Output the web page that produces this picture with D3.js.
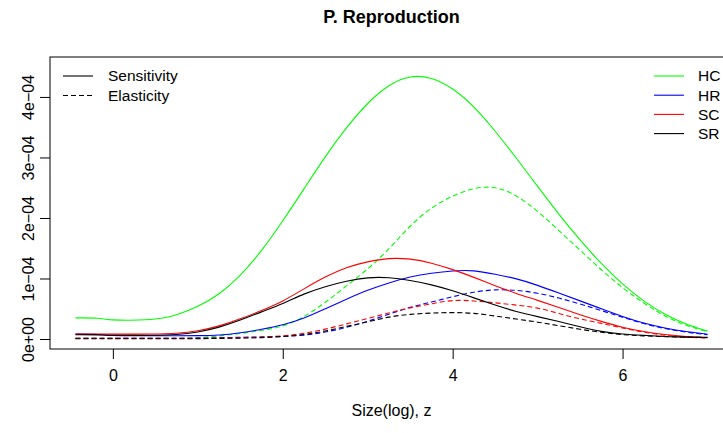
<!DOCTYPE html>
<html>
<head>
<meta charset="utf-8">
<script src="https://cdn.jsdelivr.net/npm/d3@7/dist/d3.min.js"></script>
<style>
  html, body { margin: 0; padding: 0; background: #fff; }
  svg { display: block; }
  text { font-family: "Liberation Sans", Arial, Helvetica, sans-serif; fill: #000; }
</style>
</head>
<body>
<svg id="chart" width="723" height="433"></svg>
<script>
// ---- data (values in units of 1e-04) ----
const sizes = [-0.44, -0.13, -0.1, 0.5, 0.75, 1, 1.25, 1.5, 1.75, 2, 2.25, 2.5, 2.75, 3, 3.25, 3.5, 3.75, 4, 4.25, 4.5, 4.75, 5, 5.25, 5.5, 5.75, 6, 6.25, 6.5, 6.75, 7];

const hcSensitivity = [0.35, 0.35, 0.31, 0.31, 0.39, 0.53, 0.73, 1.04, 1.45, 1.95, 2.48, 3.02, 3.50, 3.91, 4.21, 4.36, 4.33, 4.15, 3.85, 3.44, 2.99, 2.52, 2.06, 1.63, 1.24, 0.90, 0.62, 0.40, 0.24, 0.13];
const hcElasticity  = [0.01, 0.01, 0.01, 0.01, 0.01, 0.02, 0.05, 0.09, 0.14, 0.20, 0.36, 0.60, 0.88, 1.15, 1.48, 1.88, 2.18, 2.37, 2.50, 2.53, 2.38, 2.12, 1.79, 1.47, 1.14, 0.84, 0.59, 0.37, 0.22, 0.12];
const hrSensitivity = [0.08, 0.08, 0.055, 0.055, 0.055, 0.055, 0.06, 0.10, 0.16, 0.23, 0.34, 0.50, 0.66, 0.81, 0.93, 1.03, 1.09, 1.13, 1.14, 1.07, 1.00, 0.89, 0.76, 0.63, 0.50, 0.37, 0.26, 0.18, 0.12, 0.08];
const hrElasticity  = [0.01, 0.01, 0.01, 0.01, 0.01, 0.015, 0.02, 0.03, 0.035, 0.04, 0.06, 0.11, 0.19, 0.29, 0.41, 0.53, 0.61, 0.70, 0.78, 0.82, 0.81, 0.76, 0.68, 0.58, 0.47, 0.36, 0.25, 0.17, 0.11, 0.07];
const scSensitivity = [0.08, 0.08, 0.08, 0.08, 0.09, 0.13, 0.21, 0.33, 0.47, 0.62, 0.83, 1.03, 1.19, 1.28, 1.34, 1.33, 1.26, 1.15, 1.02, 0.88, 0.75, 0.64, 0.52, 0.40, 0.29, 0.19, 0.12, 0.07, 0.04, 0.02];
const scElasticity  = [0.01, 0.01, 0.01, 0.01, 0.01, 0.01, 0.015, 0.02, 0.03, 0.05, 0.09, 0.16, 0.25, 0.34, 0.43, 0.52, 0.58, 0.65, 0.63, 0.60, 0.56, 0.52, 0.42, 0.33, 0.26, 0.18, 0.11, 0.06, 0.03, 0.015];
const srSensitivity = [0.07, 0.07, 0.06, 0.06, 0.07, 0.11, 0.19, 0.31, 0.45, 0.58, 0.75, 0.87, 0.96, 1.02, 1.02, 0.97, 0.90, 0.80, 0.68, 0.56, 0.45, 0.37, 0.29, 0.20, 0.12, 0.08, 0.06, 0.04, 0.03, 0.03];
const srElasticity  = [0.005, 0.005, 0.005, 0.005, 0.005, 0.005, 0.01, 0.015, 0.02, 0.04, 0.07, 0.13, 0.21, 0.28, 0.37, 0.41, 0.43, 0.44, 0.43, 0.38, 0.33, 0.28, 0.22, 0.16, 0.11, 0.07, 0.05, 0.04, 0.03, 0.025];

const groupNames  = ["HC", "HR", "SC", "SR"];
const groupColors = ["#00ff00", "#0000ff", "#ff0000", "#000000"];
const measureNames = ["Sensitivity", "Elasticity"];

const xTicks = [0, 2, 4, 6];
const xTickLabels = ["0", "2", "4", "6"];
const yTicks = [0, 1, 2, 3, 4];
const yTickLabels = ["0e+00", "1e\u221204", "2e\u221204", "3e\u221204", "4e\u221204"];

const titleText = "P. Reproduction";
const xLabelText = "Size(log), z";

// ---- layout ----
const svg = d3.select("#chart");
const plot = { left: 50, top: 57, right: 733, bottom: 349 };

const x = d3.scaleLinear().domain([-0.74, 7.30]).range([plot.left, plot.right]);
const y = d3.scaleLinear().domain([-0.165, 4.66]).range([plot.bottom, plot.top]);

const seriesByGroup = [
  [hcSensitivity, hcElasticity],
  [hrSensitivity, hrElasticity],
  [scSensitivity, scElasticity],
  [srSensitivity, srElasticity]
];
const dashFor = ["none", "5,3"];

svg.append("defs").append("clipPath").attr("id", "pclip")
  .append("rect").attr("x", plot.left).attr("y", plot.top)
  .attr("width", plot.right - plot.left).attr("height", plot.bottom - plot.top);

const line = d3.line()
  .x((d, i) => x(sizes[i]))
  .y(d => y(d))
  .curve(d3.curveBasis);

const lines = svg.append("g").attr("clip-path", "url(#pclip)");
seriesByGroup.forEach((pair, gi) => {
  pair.forEach((vals, mi) => {
    lines.append("path")
      .attr("d", line(vals))
      .attr("fill", "none")
      .attr("stroke", groupColors[gi])
      .attr("stroke-width", 1.1)
      .attr("stroke-dasharray", dashFor[mi]);
  });
});

// frame
svg.append("rect")
  .attr("x", plot.left).attr("y", plot.top)
  .attr("width", plot.right - plot.left).attr("height", plot.bottom - plot.top)
  .attr("fill", "none").attr("stroke", "#000").attr("stroke-width", 1);

// x axis
const xAxis = d3.axisBottom(x).tickValues(xTicks)
  .tickFormat((d, i) => xTickLabels[i]).tickSize(10).tickSizeOuter(0).tickPadding(11);
const gx = svg.append("g").attr("transform", `translate(0,${plot.bottom})`).call(xAxis);
gx.select(".domain").remove();
gx.selectAll("text").attr("font-size", 16).style("font-family", '"Liberation Sans", Arial, sans-serif');
gx.selectAll("line").attr("stroke", "#000");

// y axis
const yAxis = d3.axisLeft(y).tickValues(yTicks)
  .tickFormat((d, i) => yTickLabels[i]).tickSize(10).tickSizeOuter(0);
const gy = svg.append("g").attr("transform", `translate(${plot.left},0)`).call(yAxis);
gy.select(".domain").remove();
gy.selectAll("line").attr("stroke", "#000");
gy.selectAll("text")
  .attr("font-size", 16)
  .style("font-family", '"Liberation Sans", Arial, sans-serif')
  .attr("x", null)
  .attr("text-anchor", "middle")
  .attr("transform", "translate(-22,0) rotate(-90)")
  .attr("y", 0)
  .attr("dy", "0.35em");

// title
svg.append("text")
  .attr("x", (plot.left + plot.right) / 2).attr("y", 23)
  .attr("text-anchor", "middle").attr("font-size", 18).attr("font-weight", "bold")
  .text(titleText);

// x label
svg.append("text")
  .attr("x", (plot.left + plot.right) / 2).attr("y", 416)
  .attr("text-anchor", "middle").attr("font-size", 16)
  .text(xLabelText);

// legend left (line types)
const legL = svg.append("g");
measureNames.forEach((name, i) => {
  const yy = 76 + i * 19.5;
  legL.append("line").attr("x1", 63).attr("x2", 93).attr("y1", yy).attr("y2", yy)
    .attr("stroke", "#000").attr("stroke-width", 1.1).attr("stroke-dasharray", dashFor[i]);
  legL.append("text").attr("x", 108).attr("y", yy).attr("dy", "0.35em")
    .attr("font-size", 15.5).text(name);
});

// legend right (groups)
const legR = svg.append("g");
groupNames.forEach((name, i) => {
  const yy = 76 + i * 19.2;
  legR.append("line").attr("x1", 654).attr("x2", 684).attr("y1", yy).attr("y2", yy)
    .attr("stroke", groupColors[i]).attr("stroke-width", 1.1);
  legR.append("text").attr("x", 698).attr("y", yy).attr("dy", "0.35em")
    .attr("font-size", 15.5).text(name);
});
</script>
</body>
</html>
